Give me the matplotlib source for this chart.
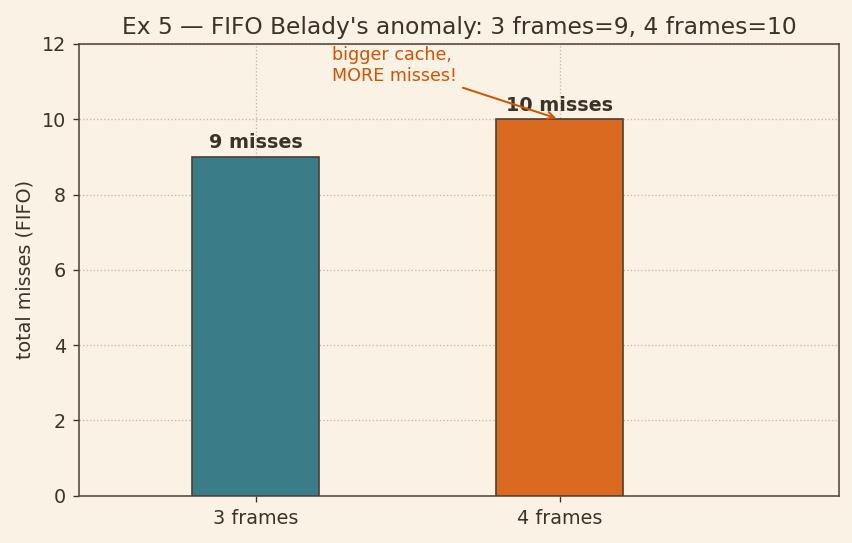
import matplotlib.pyplot as plt

# data
labels = ["3 frames", "4 frames"]
misses = [9, 10]
bar_colors = ["#3a7d89", "#d96a1f"]
bar_texts = ["9 misses", "10 misses"]

bg = "#faf2e4"
ink = "#3b3229"

plt.rcParams["font.family"] = "DejaVu Sans"

fig, ax = plt.subplots(figsize=(7.1, 4.525), dpi=120)
fig.patch.set_facecolor(bg)
ax.set_facecolor(bg)

x = list(range(len(labels)))
bars = ax.bar(x, misses, width=0.42, color=bar_colors, edgecolor="#4a3f35", linewidth=1.0, zorder=3)

# labels on top of bars
for xi, v, t in zip(x, misses, bar_texts):
    ax.text(xi, v + 0.12, t, ha="center", va="bottom", fontsize=11.5,
            fontweight="bold", color=ink, zorder=4)

ax.annotate("bigger cache,\nMORE misses!", xy=(1, 10), xytext=(0.25, 10.92),
            ha="left", va="bottom", fontsize=10.5, color="#d35400",
            arrowprops=dict(arrowstyle="->", color="#d35400", lw=1.2), zorder=5)

ax.set_xticks(x)
ax.set_xticklabels(labels)
ax.set_xlim(-0.58, 1.92)
ax.set_ylim(0, 12)
ax.set_yticks(range(0, 13, 2))
ax.set_ylabel("total misses (FIFO)", fontsize=11.5, color=ink)
ax.set_title("Ex 5 \u2014 FIFO Belady's anomaly: 3 frames=9, 4 frames=10", fontsize=14, color=ink)

ax.grid(True, linestyle=":", color="#c4baa9", linewidth=0.8, zorder=0)
for s in ax.spines.values():
    s.set_color("#5a4e44")
    s.set_linewidth(1.0)
ax.tick_params(colors=ink, labelsize=11.5, pad=4.5)
for lab in ax.get_xticklabels() + ax.get_yticklabels():
    lab.set_color(ink)

plt.subplots_adjust(left=0.093, right=0.985, top=0.919, bottom=0.087)
plt.savefig("out.png", facecolor=bg)
